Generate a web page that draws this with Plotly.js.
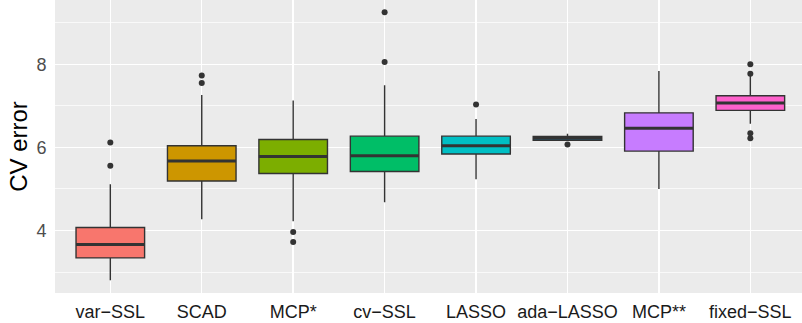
<!DOCTYPE html>
<html>
<head>
<meta charset="utf-8">
<script src="https://cdn.plot.ly/plotly-3.0.1.min.js"></script>
<style>
  html, body { margin: 0; padding: 0; background: #ffffff; }
  #chart { width: 802px; height: 323px; }
</style>
</head>
<body>
<div id="chart"></div>
<script>
// Cross-validation error by method: five-number summaries plus outlying points
const methods = ['var\u2212SSL', 'SCAD', 'MCP*', 'cv\u2212SSL', 'LASSO', 'ada\u2212LASSO', 'MCP**', 'fixed\u2212SSL'];
const lowerWhisker = [2.80, 4.27, 4.22, 4.68, 5.235, 6.16, 4.995, 6.565];
const q1Values     = [3.34, 5.19, 5.37, 5.42, 5.84, 6.17, 5.91, 6.89];
const medians      = [3.66, 5.67, 5.78, 5.80, 6.04, 6.22, 6.46, 7.07];
const q3Values     = [4.07, 6.04, 6.19, 6.27, 6.27, 6.265, 6.83, 7.24];
const upperWhisker = [5.115, 7.26, 7.125, 7.495, 6.685, 6.325, 7.84, 7.74];
const outliers = [
  [6.115, 5.555],
  [7.73, 7.55],
  [3.96, 3.72],
  [9.25, 8.055],
  [7.03],
  [6.07],
  [],
  [8.0, 7.77, 6.34, 6.22]
];
const fillColors = ['#F8766D', '#CD9600', '#7CAE00', '#00BE67', '#00BFC4', '#00A9FF', '#C77CFF', '#FF61CC'];

const BOX_WIDTH = 0.75;
const INK = '#333333';
const positions = methods.map((_, i) => i);

const traces = [];

// one box per method, built from the precomputed statistics
methods.forEach((name, i) => {
  traces.push({
    type: 'box',
    name: name,
    x: [positions[i]],
    q1: [q1Values[i]],
    median: [medians[i]],
    q3: [q3Values[i]],
    lowerfence: [lowerWhisker[i]],
    upperfence: [upperWhisker[i]],
    width: BOX_WIDTH,
    whiskerwidth: 0,
    fillcolor: fillColors[i],
    line: { color: INK, width: 1.4 },
    boxpoints: false,
    hoverinfo: 'skip',
    showlegend: false
  });
});

// heavier median bars drawn on top of the boxes
const medX = [], medY = [];
methods.forEach((_, i) => {
  medX.push(positions[i] - BOX_WIDTH / 2, positions[i] + BOX_WIDTH / 2, null);
  medY.push(medians[i], medians[i], null);
});
traces.push({
  type: 'scatter',
  mode: 'lines',
  x: medX,
  y: medY,
  line: { color: INK, width: 3 },
  hoverinfo: 'skip',
  showlegend: false
});

// outlying observations
const outX = [], outY = [];
outliers.forEach((vals, i) => {
  vals.forEach(v => { outX.push(positions[i]); outY.push(v); });
});
traces.push({
  type: 'scatter',
  mode: 'markers',
  x: outX,
  y: outY,
  marker: { color: INK, size: 6 },
  hoverinfo: 'skip',
  showlegend: false
});

const layout = {
  width: 802,
  height: 323,
  margin: { l: 55, r: 0, t: 0, b: 30, pad: 0 },
  paper_bgcolor: '#ffffff',
  plot_bgcolor: '#EBEBEB',
  font: { family: '"Liberation Sans", Arial, sans-serif' },
  xaxis: {
    range: [-0.605, 7.565],
    tickmode: 'array',
    tickvals: positions,
    ticktext: methods,
    showgrid: true,
    gridcolor: '#ffffff',
    gridwidth: 1.4,
    zeroline: false,
    showline: false,
    ticks: 'outside',
    ticklen: 2,
    tickcolor: 'rgba(0,0,0,0)',
    tickfont: { size: 18, color: '#1A1A1A' }
  },
  yaxis: {
    range: [2.495, 9.546],
    tickmode: 'linear',
    tick0: 0,
    dtick: 2,
    showgrid: true,
    gridcolor: '#ffffff',
    gridwidth: 1.4,
    minor: { dtick: 1, tick0: 0, showgrid: true, gridcolor: '#ffffff', gridwidth: 0.7 },
    zeroline: false,
    showline: false,
    ticks: 'outside',
    ticklen: 4,
    tickcolor: 'rgba(0,0,0,0)',
    tickfont: { size: 18, color: '#4D4D4D' },
    title: { text: 'CV error', font: { size: 24, color: '#000000' }, standoff: 1 }
  }
};

Plotly.newPlot('chart', traces, layout, { displayModeBar: false, staticPlot: true });
</script>
</body>
</html>
